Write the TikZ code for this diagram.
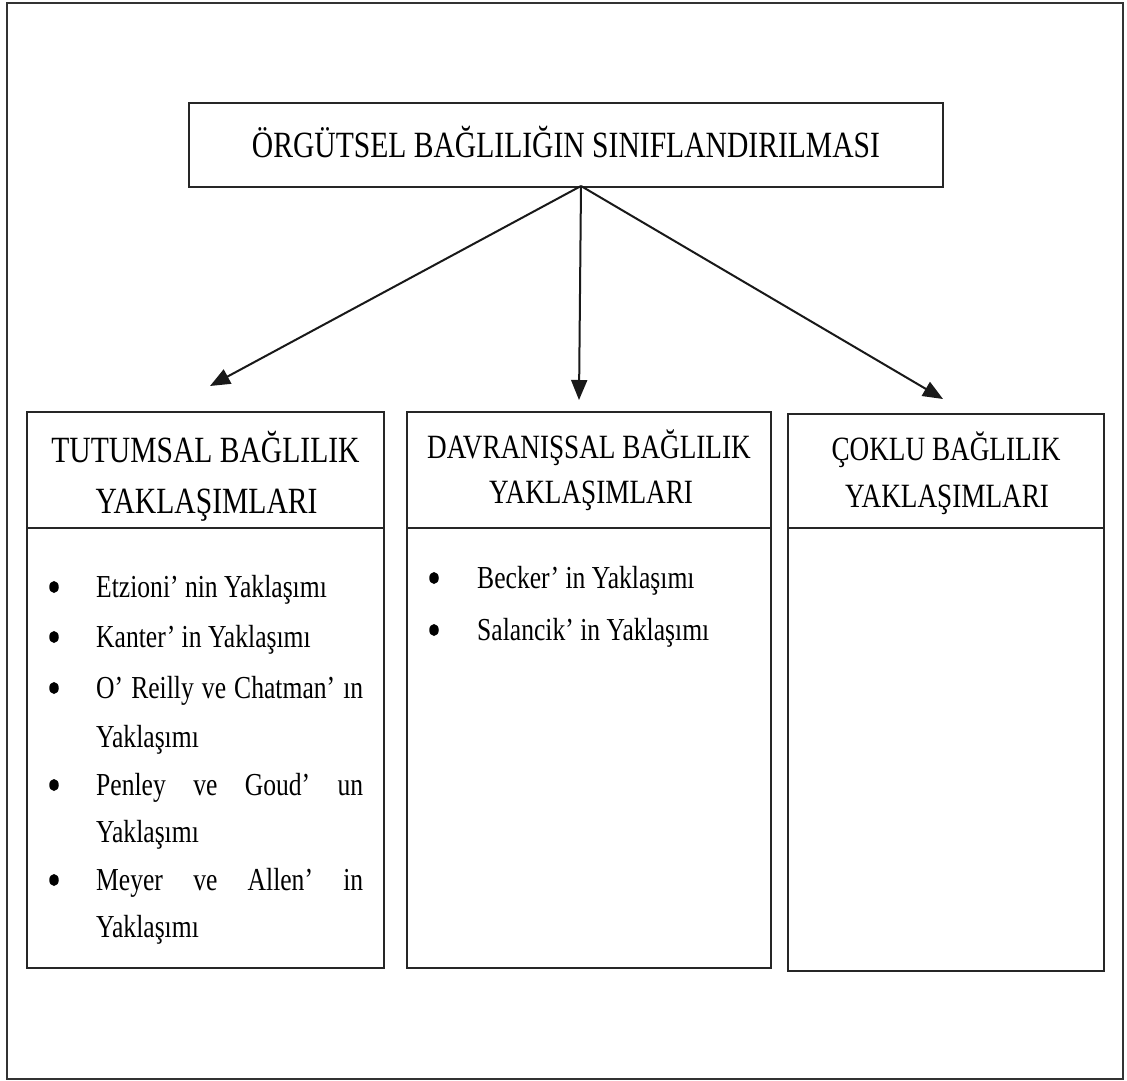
\documentclass[tikz,border=0pt]{standalone}
\usepackage{fontspec}
\setmainfont{Liberation Serif}[FakeStretch=0.8]
\usetikzlibrary{arrows.meta,shapes.geometric}

\tikzset{
  frameline/.style={draw=black!80, line width=1.8pt},
  boxline/.style={draw=black!85, line width=2.2pt, inner sep=0pt, outer sep=0pt},
  toptxt/.style={font=\fontsize{37}{42}\selectfont, inner sep=0pt, anchor=base},
  headtxt/.style={font=\fontsize{37}{42}\selectfont, inner sep=0pt, anchor=base},
  headtxtsm/.style={font=\fontsize{34}{40}\selectfont, inner sep=0pt, anchor=base},
  bodytxt/.style={font=\fontsize{32}{36}\selectfont, inner sep=0pt, anchor=base west},
  dotmark/.style={ellipse, fill=black, draw=none, inner sep=0pt, minimum width=9.5pt, minimum height=12pt},
  link/.style={line width=2pt, draw=black!90, -{Triangle[length=20pt,width=16pt]}}
}

\begin{document}
\begin{tikzpicture}[x=1pt,y=-1pt]
  \useasboundingbox (0,0) rectangle (1127,1081);
  \fill[white] (0,0) rectangle (1127,1081);

  % outer frame
  \draw[frameline] (7,3) rectangle (1123,1079);

  % title box
  \node[boxline, draw, minimum width=754pt, minimum height=84pt] (top) at (566,145) {};
  \node[toptxt] (toplabel) at (566,157) {ÖRGÜTSEL BAĞLILIĞIN SINIFLANDIRILMASI};

  % column boxes: header part and body part
  \node[boxline, draw, minimum width=357pt, minimum height=116pt] (h1) at (205.5,470) {};
  \node[boxline, draw, minimum width=357pt, minimum height=440pt] (b1) at (205.5,748) {};
  \node[boxline, draw, minimum width=364pt, minimum height=116pt] (h2) at (589,470) {};
  \node[boxline, draw, minimum width=364pt, minimum height=440pt] (b2) at (589,748) {};
  \node[boxline, draw, minimum width=316pt, minimum height=114pt] (h3) at (946,471) {};
  \node[boxline, draw, minimum width=316pt, minimum height=443pt] (b3) at (946,749.5) {};

  % connectors
  \coordinate (src) at (581,186);
  \coordinate (t1) at (210,386);
  \coordinate (t2) at (579,400);
  \coordinate (t3) at (943,399);
  \draw[link] (src) -- (t1);
  \draw[link] (src) -- (t2);
  \draw[link] (src) -- (t3);

  % column headers
  \node[headtxt] (h1a) at (205.5,462) {TUTUMSAL BAĞLILIK};
  \node[headtxt] (h1b) at (206.5,513) {YAKLAŞIMLARI};
  \node[headtxtsm] (h2a) at (589,458) {DAVRANIŞSAL BAĞLILIK};
  \node[headtxtsm] (h2b) at (591,503) {YAKLAŞIMLARI};
  \node[headtxtsm] (h3a) at (946,460) {ÇOKLU BAĞLILIK};
  \node[headtxtsm] (h3b) at (947,507) {YAKLAŞIMLARI};

  % first column items
  \foreach \n/\y in {1/597, 2/647, 3/698, 4/795, 5/890}
    \node[dotmark] (p\n) at (54,\y-10) {};
  \node[bodytxt] (l1) at (96,597) {Etzioni’ nin Yaklaşımı};
  \node[bodytxt] (l2) at (96,647) {Kanter’ in Yaklaşımı};
  \node[bodytxt] (l3) at (96,698) {\makebox[267pt][s]{O’ Reilly ve Chatman’ ın}};
  \node[bodytxt] (l4) at (96,747) {Yaklaşımı};
  \node[bodytxt] (l5) at (96,795) {\makebox[267pt][s]{Penley ve Goud’ un}};
  \node[bodytxt] (l6) at (96,842) {Yaklaşımı};
  \node[bodytxt] (l7) at (96,890) {\makebox[267pt][s]{Meyer ve Allen’ in}};
  \node[bodytxt] (l8) at (96,937) {Yaklaşımı};

  % second column items
  \foreach \n/\y in {1/588, 2/640}
    \node[dotmark] (q\n) at (434,\y-10) {};
  \node[bodytxt] (m1) at (477,588) {Becker’ in Yaklaşımı};
  \node[bodytxt] (m2) at (477,640) {Salancik’ in Yaklaşımı};
\end{tikzpicture}
\end{document}
